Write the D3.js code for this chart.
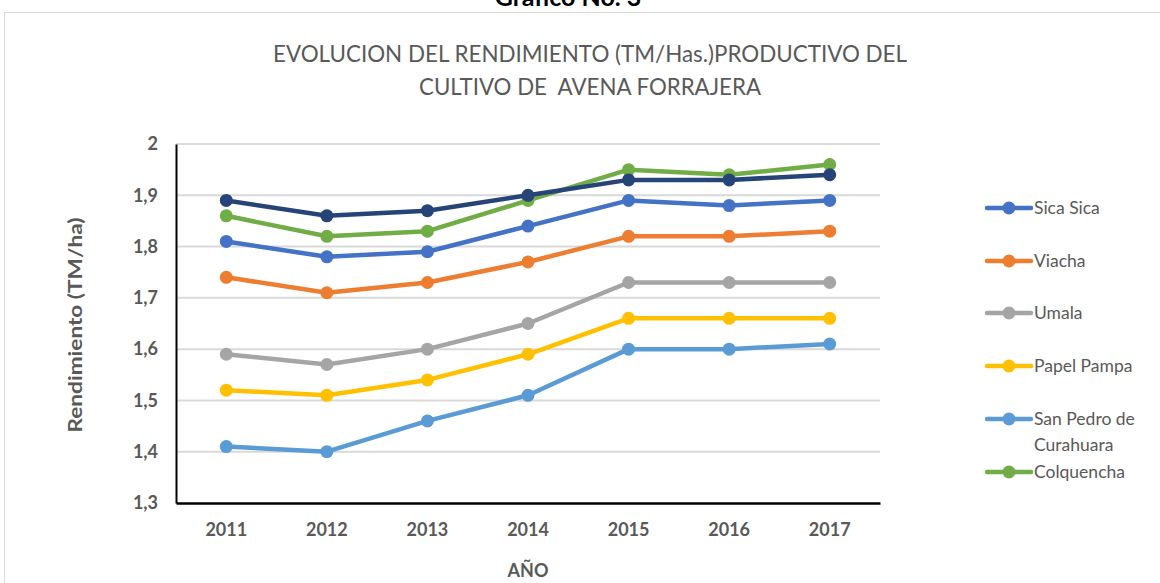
<!DOCTYPE html>
<html>
<head>
<meta charset="utf-8">
<script src="https://cdn.jsdelivr.net/npm/d3@7"></script>
<style>
  body { margin: 0; background: #fff; }
  svg { display: block; font-family: Lato, "Open Sans", sans-serif; }
</style>
</head>
<body>
<svg id="chart" width="1160" height="583"></svg>
<script>
// data
const years = ["2011", "2012", "2013", "2014", "2015", "2016", "2017"];
const yTicks = [1.3, 1.4, 1.5, 1.6, 1.7, 1.8, 1.9, 2];

const sicaSica   = [1.81, 1.78, 1.79, 1.84, 1.89, 1.88, 1.89];
const viacha     = [1.74, 1.71, 1.73, 1.77, 1.82, 1.82, 1.83];
const umala      = [1.59, 1.57, 1.60, 1.65, 1.73, 1.73, 1.73];
const papelPampa = [1.52, 1.51, 1.54, 1.59, 1.66, 1.66, 1.66];
const sanPedro   = [1.41, 1.40, 1.46, 1.51, 1.60, 1.60, 1.61];
const colquencha = [1.86, 1.82, 1.83, 1.89, 1.95, 1.94, 1.96];
const sinNombre  = [1.89, 1.86, 1.87, 1.90, 1.93, 1.93, 1.94]; // serie sin leyenda

const series = [
  {name: ["Sica Sica"], values: sicaSica, color: "#4472C4", legend: true},
  {name: ["Viacha"], values: viacha, color: "#ED7D31", legend: true},
  {name: ["Umala"], values: umala, color: "#A5A5A5", legend: true},
  {name: ["Papel Pampa"], values: papelPampa, color: "#FFC000", legend: true},
  {name: ["San Pedro de", "Curahuara"], values: sanPedro, color: "#5B9BD5", legend: true},
  {name: ["Colquencha"], values: colquencha, color: "#70AD47", legend: true},
  {name: [""], values: sinNombre, color: "#264478", legend: false}
];

const svg = d3.select("#chart");
const textColor = "#595959";

// page heading, cut off by the top edge like in the original page
svg.append("text")
    .attr("x", 568).attr("y", 6)
    .attr("text-anchor", "middle")
    .attr("font-size", 25).attr("font-weight", "bold")
    .attr("fill", "#000")
    .text("Grafico No. 3");

// chart frame
svg.append("rect")
    .attr("x", 4.5).attr("y", 12.5)
    .attr("width", 1170).attr("height", 600)
    .attr("fill", "#fff")
    .attr("stroke", "#d9d9d9");

// title
svg.append("text")
    .attr("x", 590).attr("y", 62)
    .attr("text-anchor", "middle")
    .attr("font-size", 23.5).attr("fill", textColor)
    .attr("textLength", 634).attr("lengthAdjust", "spacingAndGlyphs")
    .text("EVOLUCION DEL RENDIMIENTO (TM/Has.)PRODUCTIVO DEL");
svg.append("text")
    .attr("x", 590).attr("y", 95)
    .attr("text-anchor", "middle")
    .attr("font-size", 23.5).attr("fill", textColor)
    .attr("textLength", 342).attr("lengthAdjust", "spacingAndGlyphs")
    .style("white-space", "pre")
    .text("CULTIVO DE  AVENA FORRAJERA");

const margin = {left: 176, top: 144, right: 880, bottom: 503};
const width = margin.right - margin.left;
const height = margin.bottom - margin.top;

const g = svg.append("g").attr("transform", `translate(${margin.left},${margin.top})`);

const x = d3.scaleBand().domain(years).range([0, width]);
const y = d3.scaleLinear().domain([1.3, 2]).range([height, 0]);
const fmt = d => String(d).replace(".", ",");

// gridlines
g.append("g")
  .selectAll("line")
  .data(yTicks.filter(t => t > 1.3))
  .join("line")
    .attr("x1", 0).attr("x2", width)
    .attr("y1", d => y(d)).attr("y2", d => y(d))
    .attr("stroke", "#d9d9d9").attr("stroke-width", 2);

// y axis
const yAxisG = g.append("g")
    .call(d3.axisLeft(y).tickValues(yTicks).tickFormat(fmt).tickSize(0).tickPadding(18));
yAxisG.select(".domain").attr("stroke", "#000").attr("stroke-width", 2);
yAxisG.selectAll("text")
    .attr("font-size", 18).attr("font-weight", "bold").attr("fill", textColor)
    .attr("font-family", "Lato, sans-serif");

// x axis
const xAxisG = g.append("g")
    .attr("transform", `translate(0,${height})`)
    .call(d3.axisBottom(x).tickSize(0).tickPadding(20));
xAxisG.select(".domain").attr("stroke", "#000").attr("stroke-width", 2.5);
xAxisG.selectAll("text")
    .attr("font-size", 18).attr("font-weight", "bold").attr("fill", textColor)
    .attr("font-family", "Lato, sans-serif");

// axis titles
svg.append("text")
    .attr("transform", "translate(82,325) rotate(-90)")
    .attr("text-anchor", "middle")
    .attr("font-size", 18).attr("font-weight", "bold").attr("fill", textColor)
    .attr("textLength", 215).attr("lengthAdjust", "spacingAndGlyphs")
    .text("Rendimiento (TM/ha)");
svg.append("text")
    .attr("x", 528).attr("y", 577)
    .attr("text-anchor", "middle")
    .attr("font-size", 18).attr("font-weight", "bold").attr("fill", textColor)
    .text("AÑO");

// lines and markers
const line = d3.line()
    .x((d, i) => x(years[i]) + x.bandwidth() / 2)
    .y(d => y(d));

series.forEach(s => {
  g.append("path")
      .datum(s.values)
      .attr("d", line)
      .attr("fill", "none")
      .attr("stroke", s.color)
      .attr("stroke-width", 4.5)
      .attr("stroke-linejoin", "round");
  g.selectAll(null)
      .data(s.values)
      .join("circle")
      .attr("cx", (d, i) => x(years[i]) + x.bandwidth() / 2)
      .attr("cy", d => y(d))
      .attr("r", 6.5)
      .attr("fill", s.color);
});

// legend
const legendY = [208, 261, 313, 366, 419, 472];
const legend = svg.append("g");
series.filter(s => s.legend).forEach((s, i) => {
  const ly = legendY[i];
  legend.append("line")
      .attr("x1", 987).attr("x2", 1031)
      .attr("y1", ly).attr("y2", ly)
      .attr("stroke", s.color).attr("stroke-width", 4.5)
      .attr("stroke-linecap", "round");
  legend.append("circle")
      .attr("cx", 1009).attr("cy", ly).attr("r", 6.5)
      .attr("fill", s.color);
  s.name.forEach((ln, j) => {
    legend.append("text")
        .attr("x", 1034).attr("y", ly + 6 + j * 26)
        .attr("font-size", 17.5).attr("fill", textColor)
        .text(ln);
  });
});
</script>
</body>
</html>
